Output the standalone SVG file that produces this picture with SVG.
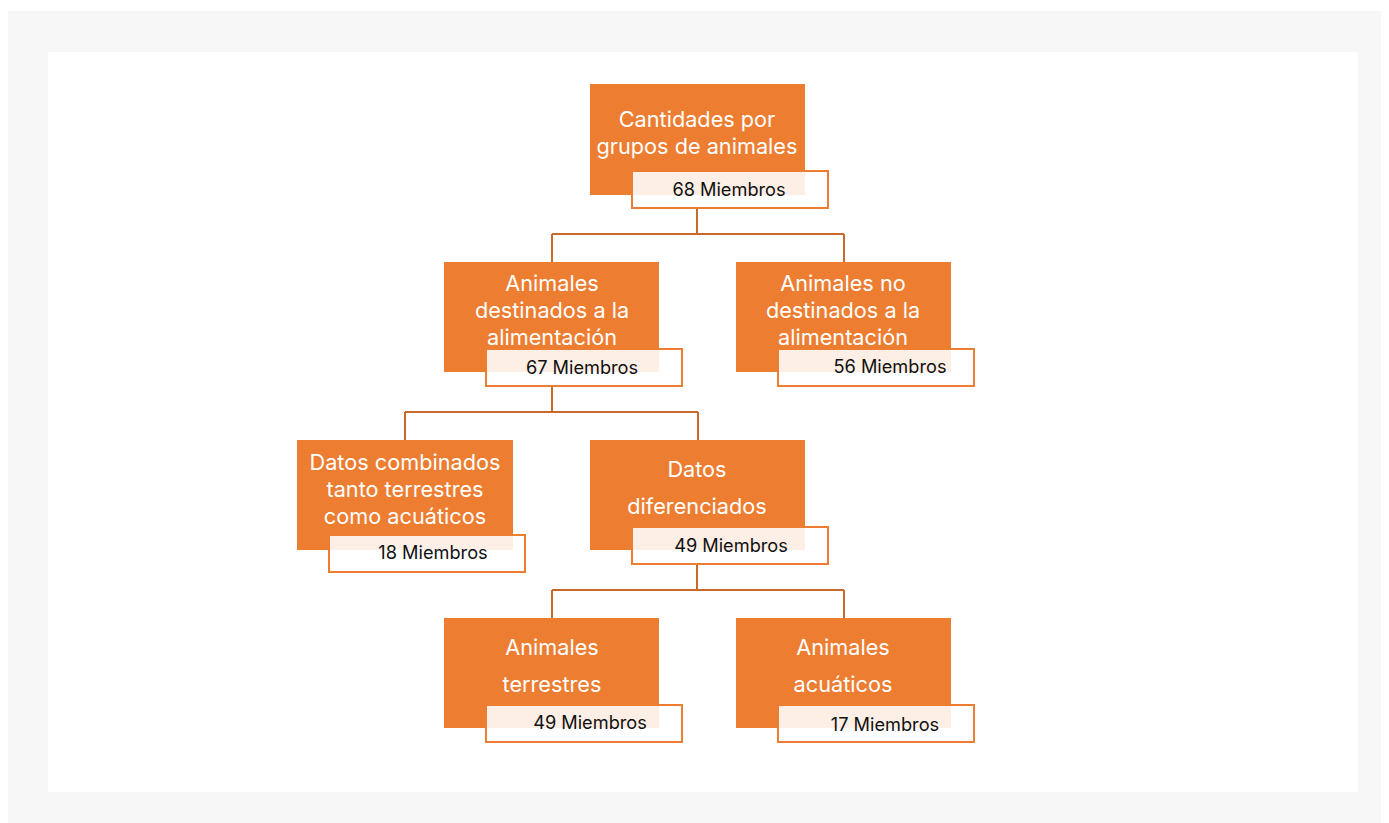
<svg xmlns="http://www.w3.org/2000/svg" width="1389" height="823" viewBox="0 0 1389 823">
<style>
.box{fill:#ed7d31}
.lab{fill:#ffffff;fill-opacity:0.88;stroke:#ed7d31;stroke-width:2}
.t{font-family:Inter,"Liberation Sans",sans-serif;font-size:21.7px;fill:#ffffff;text-anchor:middle;dominant-baseline:central}
.m{font-family:Inter,"Liberation Sans",sans-serif;font-size:18.2px;fill:#111111;text-anchor:middle;dominant-baseline:central}
.c{fill:none;stroke:#c96a2c;stroke-width:2}
</style>
<rect x="0" y="0" width="1389" height="823" fill="#ffffff"/>
<rect x="8" y="11" width="1373" height="812" fill="#f7f7f7"/>
<rect x="48" y="52" width="1310" height="740" fill="#ffffff"/>
<g id="connectors">
<path class="c" d="M697 209V234M552 234H844M552 234V262M844 234V262"/>
<path class="c" d="M552 386V412M405 412H698M405 412V440M698 412V440"/>
<path class="c" d="M697 565V590M552 590H844M552 590V618M844 590V618"/>
</g>
<g id="n1">
<rect class="box" x="590" y="84" width="215" height="111"/>
<text class="t" x="697" y="119">Cantidades por</text>
<text class="t" x="697" y="146">grupos de animales</text>
<rect class="lab" x="632" y="171" width="196" height="37"/>
<text class="m" x="729" y="189">68 Miembros</text>
</g>
<g id="n2">
<rect class="box" x="444" y="262" width="215" height="110"/>
<text class="t" x="552" y="283">Animales</text>
<text class="t" x="552" y="310">destinados a la</text>
<text class="t" x="552" y="337">alimentación</text>
<rect class="lab" x="486" y="349" width="196" height="37"/>
<text class="m" x="582" y="367">67 Miembros</text>
</g>
<g id="n3">
<rect class="box" x="736" y="262" width="215" height="110"/>
<text class="t" x="843" y="283">Animales no</text>
<text class="t" x="843" y="310">destinados a la</text>
<text class="t" x="843" y="337">alimentación</text>
<rect class="lab" x="778" y="349" width="196" height="37"/>
<text class="m" x="890" y="366">56 Miembros</text>
</g>
<g id="n4">
<rect class="box" x="297" y="440" width="216" height="110"/>
<text class="t" x="405" y="462">Datos combinados</text>
<text class="t" x="405" y="489">tanto terrestres</text>
<text class="t" x="405" y="516">como acuáticos</text>
<rect class="lab" x="329" y="535" width="196" height="37"/>
<text class="m" x="433" y="552">18 Miembros</text>
</g>
<g id="n5">
<rect class="box" x="590" y="440" width="215" height="110"/>
<text class="t" x="697" y="469">Datos</text>
<text class="t" x="697" y="506">diferenciados</text>
<rect class="lab" x="632" y="527" width="196" height="37"/>
<text class="m" x="731" y="545">49 Miembros</text>
</g>
<g id="n6">
<rect class="box" x="444" y="618" width="215" height="110"/>
<text class="t" x="552" y="647">Animales</text>
<text class="t" x="552" y="684">terrestres</text>
<rect class="lab" x="486" y="705" width="196" height="37"/>
<text class="m" x="590" y="722">49 Miembros</text>
</g>
<g id="n7">
<rect class="box" x="736" y="618" width="215" height="110"/>
<text class="t" x="843" y="647">Animales</text>
<text class="t" x="843" y="684">acuáticos</text>
<rect class="lab" x="778" y="705" width="196" height="37"/>
<text class="m" x="885" y="724">17 Miembros</text>
</g>
</svg>
